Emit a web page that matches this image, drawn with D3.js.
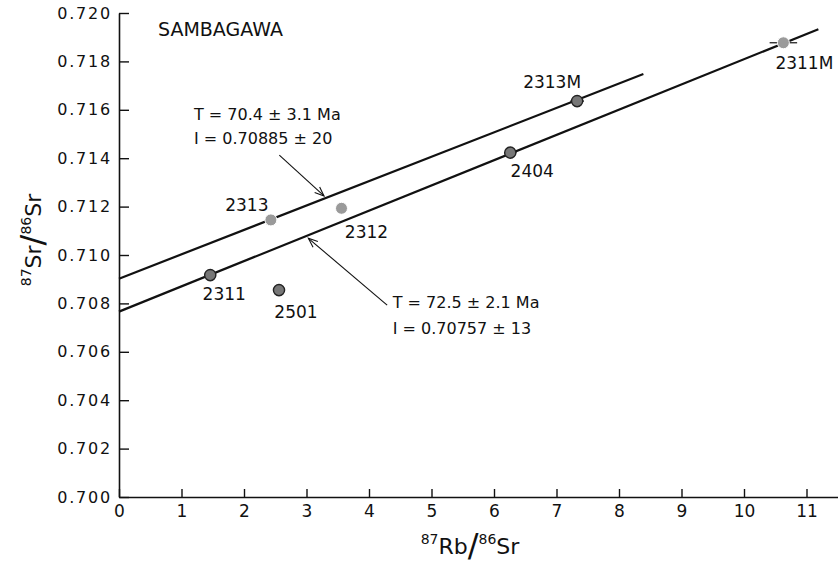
<!DOCTYPE html>
<html><head><meta charset="utf-8">
<script src="https://cdn.jsdelivr.net/npm/d3@7"></script>
<style>
body{margin:0;background:#fff}
text{font-family:"DejaVu Sans",sans-serif;fill:#111}
</style>
</head><body>
<svg id="c" width="838" height="566"></svg>
<script>
// ---- data ----
const samples = ["2311","2501","2313","2312","2404","2313M","2311M"];
const rbSr    = [1.46, 2.56, 2.43, 3.56, 6.26, 7.33, 10.63];
const srSr    = [0.70917, 0.70855, 0.71145, 0.71193, 0.71423, 0.71636, 0.71877];
const rbErr   = [0.04, 0.04, 0.04, 0.04, 0.10, 0.11, 0.22];
const xTicks  = [0,1,2,3,4,5,6,7,8,9,10,11];
const yTicks  = [0.700,0.702,0.704,0.706,0.708,0.710,0.712,0.714,0.716,0.718,0.720];
const isoNames     = ["upper","lower"];
const isoIntercept = [0.70902, 0.70766];
const isoSlope     = [0.001008, 0.001043];
const isoXEnd      = [8.39, 11.19];
const isoLabelT    = ["T = 70.4 \u00B1 3.1 Ma", "T = 72.5 \u00B1 2.1 Ma"];
const isoLabelI    = ["I = 0.70885 \u00B1 20", "I = 0.70757 \u00B1 13"];
const title = "SAMBAGAWA";

// ---- layout / style ----
const svg = d3.select("#c");
const x = d3.scaleLinear().domain([0, 11.5]).range([119, 837.75]);
const y = d3.scaleLinear().domain([0.700, 0.720]).range([497, 13]);

// axes
const yAxis = d3.axisLeft(y).tickValues(yTicks).tickFormat(d3.format(".3f"))
  .tickSize(-10).tickSizeOuter(0).tickPadding(7);
const gy = svg.append("g").attr("transform","translate(119,0)").call(yAxis);
gy.select(".domain").attr("stroke","#111").attr("stroke-width",1.6);
gy.selectAll(".tick line").attr("stroke","#111").attr("stroke-width",1.4);
gy.selectAll(".tick text").attr("font-size",16).attr("letter-spacing","1.8px")
  .attr("font-family","'DejaVu Sans',sans-serif").attr("fill","#111");

const xAxis = d3.axisBottom(x).tickValues(xTicks).tickFormat(d3.format("d"))
  .tickSize(-8).tickSizeOuter(0).tickPadding(8);
const gx = svg.append("g").attr("transform","translate(0,497)").call(xAxis);
gx.select(".domain").attr("stroke","#111").attr("stroke-width",1.6);
gx.selectAll(".tick line").attr("stroke","#111").attr("stroke-width",1.4);
gx.selectAll(".tick text").attr("font-size",17)
  .attr("font-family","'DejaVu Sans',sans-serif").attr("fill","#111");

// axis titles
const xt = svg.append("text").attr("x",470).attr("y",554).attr("text-anchor","middle").attr("font-size",22);
xt.append("tspan").attr("font-size",14).attr("dy",-10).text("87");
xt.append("tspan").attr("dy",10).text("Rb");
xt.append("tspan").attr("font-size",32).attr("dy",2).text("/");
xt.append("tspan").attr("font-size",14).attr("dy",-12).text("86");
xt.append("tspan").attr("dy",10).text("Sr");

const yt = svg.append("text").attr("transform","translate(41,240) rotate(-90)")
  .attr("text-anchor","middle").attr("font-size",22);
yt.append("tspan").attr("font-size",14).attr("dy",-10).text("87");
yt.append("tspan").attr("dy",10).text("Sr");
yt.append("tspan").attr("font-size",32).attr("dy",2).text("/");
yt.append("tspan").attr("font-size",14).attr("dy",-12).text("86");
yt.append("tspan").attr("dy",10).text("Sr");

// title
svg.append("text").attr("x",158).attr("y",36).attr("font-size",19).text(title);

// isochron lines
isoNames.forEach((n,i)=>{
  svg.append("line")
    .attr("x1",x(0)).attr("y1",y(isoIntercept[i]))
    .attr("x2",x(isoXEnd[i])).attr("y2",y(isoIntercept[i]+isoSlope[i]*isoXEnd[i]))
    .attr("stroke","#111").attr("stroke-width",2.2);
});

// annotations (positions in data coords)
const annPos = [{tx:1.20, ty:0.71558, ty2:0.71460}, {tx:4.38, ty:0.70782, ty2:0.70672}];
const arrows = [{x1:2.565,y1:0.71413,x2:3.28,y2:0.71244},{x1:4.29,y1:0.70793,x2:3.03,y2:0.71069}];
isoNames.forEach((n,i)=>{
  svg.append("text").attr("x",x(annPos[i].tx)).attr("y",y(annPos[i].ty)).attr("font-size",16).text(isoLabelT[i]);
  svg.append("text").attr("x",x(annPos[i].tx)).attr("y",y(annPos[i].ty2)).attr("font-size",16).text(isoLabelI[i]);
  const a = arrows[i];
  const X1=x(a.x1),Y1=y(a.y1),X2=x(a.x2),Y2=y(a.y2);
  svg.append("line").attr("x1",X1).attr("y1",Y1).attr("x2",X2).attr("y2",Y2)
    .attr("stroke","#111").attr("stroke-width",1.1);
  const ang = Math.atan2(Y2-Y1,X2-X1), L=10, w=0.38;
  const p = [[X2-L*Math.cos(ang-w),Y2-L*Math.sin(ang-w)],[X2,Y2],[X2-L*Math.cos(ang+w),Y2-L*Math.sin(ang+w)]];
  svg.append("path").attr("d",d3.line()(p)).attr("fill","none").attr("stroke","#111").attr("stroke-width",1.1);
});

// data points
const pts = samples.map((s,i)=>({s, x:rbSr[i], y:srSr[i], e:rbErr[i]}));
const light = new Set(["2313","2312","2311M"]);
const labOff = {"2311":[14,25],"2501":[17,28],"2313":[-24,-9],"2312":[25,30],
                "2404":[22,24],"2313M":[-25,-13],"2311M":[21,26]};
pts.forEach(p=>{
  svg.append("line").attr("x1",x(p.x-p.e)).attr("x2",x(p.x+p.e))
    .attr("y1",y(p.y)).attr("y2",y(p.y)).attr("stroke","#111").attr("stroke-width",1.2);
  svg.append("circle").attr("cx",x(p.x)).attr("cy",y(p.y)).attr("r",light.has(p.s)?6:5.6)
    .attr("fill",light.has(p.s)?"#9a9a9a":"#777")
    .attr("stroke",light.has(p.s)?"#fff":"#222").attr("stroke-width",light.has(p.s)?1:1.4);
  svg.append("text").attr("x",x(p.x)+labOff[p.s][0]).attr("y",y(p.y)+labOff[p.s][1])
    .attr("text-anchor","middle").attr("font-size",17).text(p.s);
});
</script>
</body></html>
